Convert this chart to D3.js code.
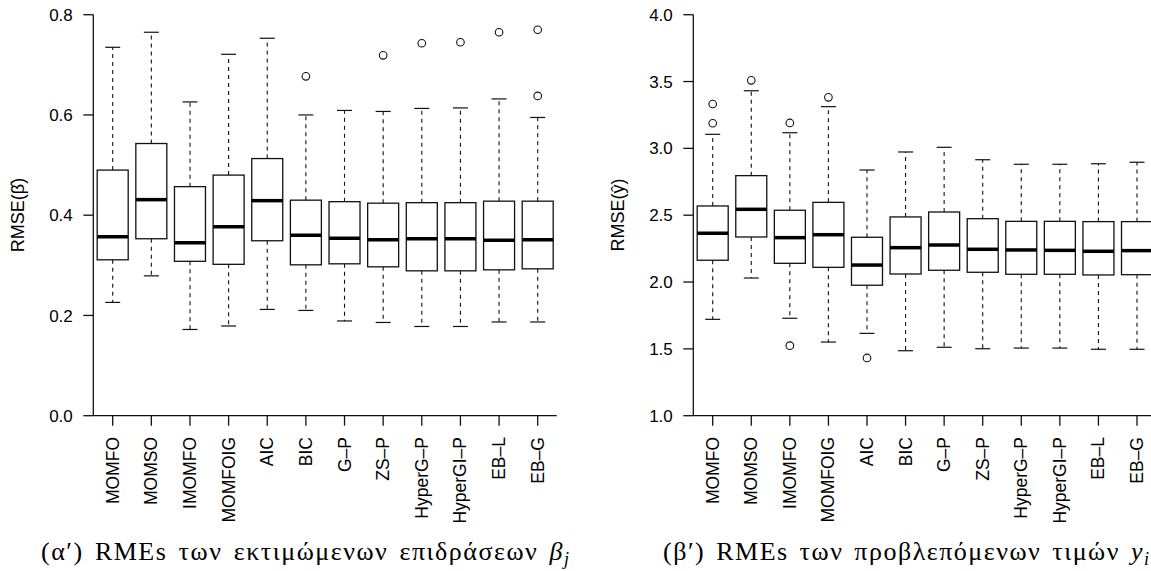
<!DOCTYPE html>
<html>
<head>
<meta charset="utf-8">
<script src="https://cdn.jsdelivr.net/npm/d3@7"></script>
<style>
  html, body { margin: 0; padding: 0; background: #fff; }
  svg { display: block; }
  .tick-label { font-family: "Liberation Sans", Arial, sans-serif; fill: #000; }
  .caption { font-family: "Liberation Serif", "DejaVu Serif", serif; fill: #000; }
</style>
</head>
<body>
<svg id="chart" width="1151" height="571"></svg>
<script>
// Methods compared in both panels
const categories = ["MOMFO", "MOMSO", "IMOMFO", "MOMFOIG", "AIC", "BIC",
  "G–P", "ZS–P", "HyperG–P", "HyperGI–P", "EB–L", "EB–G"];

// Panel (α′): RMSE of the estimated effects
const betaWhiskerLow  = [0.226, 0.279, 0.172, 0.179, 0.212, 0.210, 0.189, 0.186, 0.178, 0.178, 0.187, 0.187];
const betaQ1          = [0.311, 0.353, 0.308, 0.302, 0.349, 0.301, 0.303, 0.297, 0.289, 0.289, 0.291, 0.293];
const betaMedian      = [0.357, 0.431, 0.345, 0.377, 0.429, 0.360, 0.354, 0.351, 0.353, 0.353, 0.350, 0.351];
const betaQ3          = [0.490, 0.543, 0.457, 0.480, 0.513, 0.430, 0.427, 0.424, 0.425, 0.425, 0.428, 0.428];
const betaWhiskerHigh = [0.735, 0.765, 0.626, 0.721, 0.753, 0.600, 0.609, 0.607, 0.613, 0.614, 0.632, 0.595];
const betaOutliers = [
  { cat: "BIC", v: 0.677 }, { cat: "ZS–P", v: 0.719 }, { cat: "HyperG–P", v: 0.743 },
  { cat: "HyperGI–P", v: 0.745 }, { cat: "EB–L", v: 0.765 },
  { cat: "EB–G", v: 0.770 }, { cat: "EB–G", v: 0.638 }
];
const betaTicks = [0.0, 0.2, 0.4, 0.6, 0.8];

// Panel (β′): RMSE of the predicted values
const yWhiskerLow  = [1.721, 2.030, 1.729, 1.551, 1.616, 1.486, 1.512, 1.501, 1.506, 1.506, 1.497, 1.497];
const yQ1          = [2.163, 2.337, 2.140, 2.110, 1.976, 2.060, 2.088, 2.073, 2.058, 2.058, 2.053, 2.055];
const yMedian      = [2.365, 2.544, 2.332, 2.354, 2.127, 2.257, 2.277, 2.245, 2.240, 2.237, 2.230, 2.235];
const yQ3          = [2.569, 2.796, 2.537, 2.596, 2.335, 2.487, 2.524, 2.474, 2.454, 2.454, 2.452, 2.452];
const yWhiskerHigh = [3.105, 3.431, 3.117, 3.312, 2.838, 2.973, 3.008, 2.915, 2.881, 2.881, 2.885, 2.896];
const yOutliers = [
  { cat: "MOMFO", v: 3.188 }, { cat: "MOMFO", v: 3.332 }, { cat: "MOMSO", v: 3.509 },
  { cat: "IMOMFO", v: 3.190 }, { cat: "IMOMFO", v: 1.524 }, { cat: "MOMFOIG", v: 3.382 },
  { cat: "AIC", v: 1.432 }
];
const yTicks = [1.0, 1.5, 2.0, 2.5, 3.0, 3.5, 4.0];

const svg = d3.select("#chart");

function drawPanel(opts) {
  const g = svg.append("g");
  const x = d3.scalePoint().domain(categories).range([opts.firstX, opts.lastX]);
  const y = d3.scaleLinear().domain(opts.domain).range([415.7, 14.7]);
  const boxW = 31, capW = 15;
  const ink = "#111";

  const rows = categories.map((c, i) => ({
    cat: c, lo: opts.lo[i], q1: opts.q1[i], med: opts.med[i], q3: opts.q3[i], hi: opts.hi[i]
  }));

  const box = g.selectAll("g.box").data(rows).join("g").attr("class", "box");

  // dashed whiskers
  box.append("line")
    .attr("x1", d => x(d.cat)).attr("x2", d => x(d.cat))
    .attr("y1", d => y(d.q3)).attr("y2", d => y(d.hi))
    .attr("stroke", ink).attr("stroke-width", 1.1).attr("stroke-dasharray", "4,4");
  box.append("line")
    .attr("x1", d => x(d.cat)).attr("x2", d => x(d.cat))
    .attr("y1", d => y(d.q1)).attr("y2", d => y(d.lo))
    .attr("stroke", ink).attr("stroke-width", 1.1).attr("stroke-dasharray", "4,4");
  // staples
  box.append("line")
    .attr("x1", d => x(d.cat) - capW / 2).attr("x2", d => x(d.cat) + capW / 2)
    .attr("y1", d => y(d.hi)).attr("y2", d => y(d.hi))
    .attr("stroke", ink).attr("stroke-width", 1.2);
  box.append("line")
    .attr("x1", d => x(d.cat) - capW / 2).attr("x2", d => x(d.cat) + capW / 2)
    .attr("y1", d => y(d.lo)).attr("y2", d => y(d.lo))
    .attr("stroke", ink).attr("stroke-width", 1.2);
  // boxes
  box.append("rect")
    .attr("x", d => x(d.cat) - boxW / 2).attr("width", boxW)
    .attr("y", d => y(d.q3)).attr("height", d => y(d.q1) - y(d.q3))
    .attr("fill", "#fff").attr("stroke", ink).attr("stroke-width", 1.3);
  // medians
  box.append("line")
    .attr("x1", d => x(d.cat) - boxW / 2).attr("x2", d => x(d.cat) + boxW / 2)
    .attr("y1", d => y(d.med)).attr("y2", d => y(d.med))
    .attr("stroke", "#000").attr("stroke-width", 3.5);

  // outliers
  g.selectAll("circle.out").data(opts.outliers).join("circle")
    .attr("class", "out")
    .attr("cx", d => x(d.cat)).attr("cy", d => y(d.v)).attr("r", 3.8)
    .attr("fill", "none").attr("stroke", ink).attr("stroke-width", 1.1);

  // frame: left and bottom edges
  g.append("line")
    .attr("x1", opts.frameLeft).attr("x2", opts.frameLeft)
    .attr("y1", y(opts.domain[1])).attr("y2", y(opts.domain[0]))
    .attr("stroke", ink).attr("stroke-width", 1.3);
  g.append("line")
    .attr("x1", opts.frameLeft).attr("x2", opts.frameRight)
    .attr("y1", y(opts.domain[0])).attr("y2", y(opts.domain[0]))
    .attr("stroke", ink).attr("stroke-width", 1.3);

  // y axis ticks and labels
  const yt = g.selectAll("g.ytick").data(opts.ticks).join("g").attr("class", "ytick");
  yt.append("line")
    .attr("x1", opts.frameLeft - 10).attr("x2", opts.frameLeft)
    .attr("y1", d => y(d)).attr("y2", d => y(d))
    .attr("stroke", ink).attr("stroke-width", 1.3);
  yt.append("text").attr("class", "tick-label")
    .attr("x", opts.frameLeft - 20.5).attr("y", d => y(d))
    .attr("dy", "0.36em").attr("text-anchor", "end")
    .attr("font-size", 17)
    .text(d => d.toFixed(1));

  // x axis ticks and rotated labels
  const xt = g.selectAll("g.xtick").data(categories).join("g").attr("class", "xtick");
  xt.append("line")
    .attr("x1", d => x(d)).attr("x2", d => x(d))
    .attr("y1", y(opts.domain[0])).attr("y2", y(opts.domain[0]) + 10)
    .attr("stroke", ink).attr("stroke-width", 1.3);
  xt.append("text").attr("class", "tick-label")
    .attr("transform", d => `translate(${x(d) + 6},437) rotate(-90)`)
    .attr("text-anchor", "end").attr("font-size", 17.5)
    .text(d => d);

  // y axis title
  g.append("text").attr("class", "tick-label")
    .attr("transform", `translate(${opts.titleX},215) rotate(-90)`)
    .attr("text-anchor", "middle").attr("font-size", 18)
    .text(opts.title);

  // caption, spread to its target width (mostly between letters, a little between words)
  const cap = g.append("text").attr("class", "caption")
    .attr("x", opts.captionLeft).attr("y", 560)
    .attr("font-size", 26);
  cap.append("tspan").text(opts.caption + " ");
  cap.append("tspan").attr("font-style", "italic").text(opts.mathSym);
  cap.append("tspan").attr("font-style", "italic").attr("font-size", 18)
    .attr("dy", 5).text(opts.mathSub);
  const natural = cap.node().getBBox().width;
  const full = opts.caption + " " + opts.mathSym + opts.mathSub;
  const nSpaces = full.split(" ").length - 1;
  const extra = Math.max(0, opts.captionWidth - natural);
  cap.attr("letter-spacing", 0.78 * extra / (full.length - 1))
     .attr("word-spacing", 0.22 * extra / nSpaces);
}

drawPanel({
  firstX: 112.7, lastX: 537.7, frameLeft: 93.3, frameRight: 556.7,
  domain: [0, 0.8], ticks: betaTicks,
  lo: betaWhiskerLow, q1: betaQ1, med: betaMedian, q3: betaQ3, hi: betaWhiskerHigh,
  outliers: betaOutliers,
  title: "RMSE(\u03B2\u0302)", titleX: 24,
  caption: "(α′) RMEs των εκτιμώμενων επιδράσεων", mathSym: "β", mathSub: "j",
  captionLeft: 41, captionWidth: 528
});

drawPanel({
  firstX: 712.7, lastX: 1137, frameLeft: 693.3, frameRight: 1156.7,
  domain: [1, 4], ticks: yTicks,
  lo: yWhiskerLow, q1: yQ1, med: yMedian, q3: yQ3, hi: yWhiskerHigh,
  outliers: yOutliers,
  title: "RMSE(y\u0302)", titleX: 624,
  caption: "(β′) RMEs των προβλεπόμενων τιμών", mathSym: "y", mathSub: "i",
  captionLeft: 663, captionWidth: 486
});
</script>
</body>
</html>
